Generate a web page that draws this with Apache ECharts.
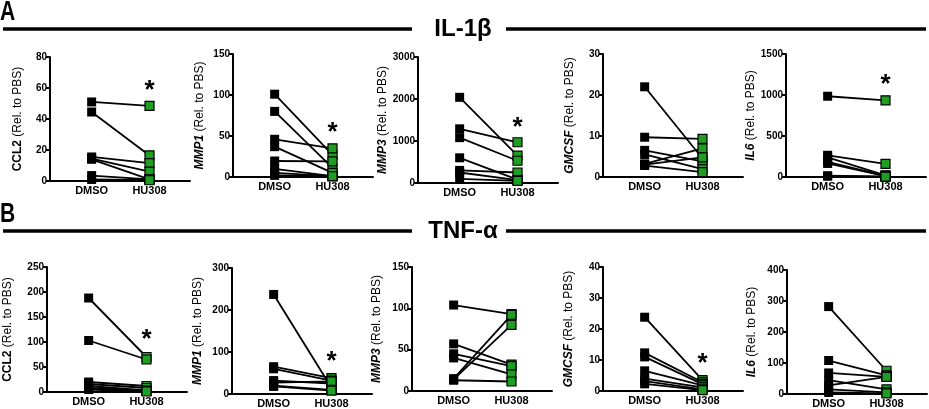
<!DOCTYPE html>
<html><head><meta charset="utf-8">
<script src="https://cdn.jsdelivr.net/npm/echarts@6/dist/echarts.min.js"></script>
<style>html,body{margin:0;padding:0;background:#fff}#c{width:929px;height:409px}</style>
</head><body><div id="c"></div>
<script>
// ---------- data ----------
const categories = ['DMSO', 'HU308'];
const panelLetters = ['A', 'B'];
const headers = ['IL-1β', 'TNF-α'];
const genes = ['CCL2', 'MMP1', 'MMP3', 'GMCSF', 'IL6'];
const geneItalic = [false, true, true, true, true];

// IL-1β (row A) — paired values per donor
const A_CCL2_DMSO  = [51, 44.5, 15.5, 14.5, 14, 3.5, 1];
const A_CCL2_HU308 = [48.5, 16.5, 11.5, 6, 1, 1, 0.5];
const A_MMP1_DMSO  = [101, 80, 46, 37, 19.5, 10, 5, 2];
const A_MMP1_HU308 = [27, 11, 35, 5, 19, 1, 1, 1];
const A_MMP3_DMSO  = [2040, 1290, 1080, 600, 300, 250, 100];
const A_MMP3_HU308 = [650, 970, 530, 80, 250, 70, 50];
const A_GMCSF_DMSO  = [22, 9.7, 6.5, 5.5, 3.2, 3.0, 2.8];
const A_GMCSF_HU308 = [4.5, 9.3, 3.8, 1.9, 7, 4.8, 1.2];
const A_IL6_DMSO  = [985, 265, 240, 185, 165, 15, 10];
const A_IL6_HU308 = [935, 160, 20, 15, 10, 5, 5];

// TNF-α (row B)
const B_CCL2_DMSO  = [188, 103, 20, 16, 12, 8, 5];
const B_CCL2_HU308 = [70, 65, 12, 8, 3, 2, 1];
const B_MMP1_DMSO  = [237, 65, 60, 32, 27, 20, 18];
const B_MMP1_HU308 = [15, 38, 32, 25, 30, 10, 8];
const B_MMP3_DMSO  = [104, 57, 45, 40, 15, 14, 13];
const B_MMP3_HU308 = [93, 32, 30, 20, 92, 80, 11.5];
const B_GMCSF_DMSO  = [23.8, 12.3, 11, 6.5, 4, 3.2, 2.3];
const B_GMCSF_HU308 = [3.5, 2.8, 2.2, 1.8, 1.2, 0.5, 0.3];
const B_IL6_DMSO  = [282, 108, 68, 45, 28, 15, 5];
const B_IL6_HU308 = [75, 60, 55, 15, 55, 5, 2];

// y-axis ranges and tick intervals
const yMaxA = [80, 150, 3000, 30, 1500];
const yIntA = [20, 50, 1000, 10, 500];
const yMaxB = [250, 300, 150, 40, 400];
const yIntB = [50, 100, 50, 10, 100];
// significance star height (null = no star)
const starA = [62, 61, 1450, null, 1195];
const starB = [116, 90, null, 10.6, null];

// ---------- layout ----------
const rows = [
  { dmso: [A_CCL2_DMSO, A_MMP1_DMSO, A_MMP3_DMSO, A_GMCSF_DMSO, A_IL6_DMSO],
    hu: [A_CCL2_HU308, A_MMP1_HU308, A_MMP3_HU308, A_GMCSF_HU308, A_IL6_HU308],
    yMax: yMaxA, yInt: yIntA, star: starA,
    left: [50, 233, 418, 603, 786], top: [57, 54, 57, 54, 54], bottom: [181, 177, 183, 177, 177],
    gap: [26, 27, 25, 27, 28] },
  { dmso: [B_CCL2_DMSO, B_MMP1_DMSO, B_MMP3_DMSO, B_GMCSF_DMSO, B_IL6_DMSO],
    hu: [B_CCL2_HU308, B_MMP1_HU308, B_MMP3_HU308, B_GMCSF_HU308, B_IL6_HU308],
    yMax: yMaxB, yInt: yIntB, star: starB,
    left: [47, 232, 412, 603, 787], top: [267, 268, 267, 267, 270], bottom: [392, 395, 391, 391, 395],
    gap: [33, 28, 29, 28, 29] }
];
const FONT = '"Liberation Sans", Arial, sans-serif';
const grids = [], xAxes = [], yAxes = [], series = [];
let gi = 0;
rows.forEach((row, r) => {
  for (let p = 0; p < 5; p++) {
    grids.push({ left: row.left[p], top: row.top[p], width: 140, height: row.bottom[p] - row.top[p] });
    xAxes.push({
      gridIndex: gi, type: 'value', min: -0.72, max: 1.7,
      axisLine: { show: true, onZero: false, lineStyle: { color: '#000', width: 2 } },
      axisTick: { show: false }, splitLine: { show: false },
      axisLabel: { customValues: [0, 1], formatter: v => categories[Math.round(v)],
        color: '#000', fontWeight: 'bold', fontSize: 11, fontFamily: FONT, margin: 4 }
    });
    const g = genes[p];
    yAxes.push({
      gridIndex: gi, type: 'value', min: 0, max: row.yMax[p], interval: row.yInt[p],
      axisLine: { show: true, onZero: false, lineStyle: { color: '#000', width: 2 } },
      axisTick: { show: true, length: 4, lineStyle: { color: '#000', width: 2 } },
      splitLine: { show: false },
      axisLabel: { formatter: v => String(v), color: '#000', fontWeight: 'bold', fontSize: 10, fontFamily: FONT, margin: 3 },
      name: '{g|' + g + '} (Rel. to PBS)', nameLocation: 'middle', nameGap: row.gap[p], nameRotate: 90,
      nameTextStyle: { color: '#000', fontSize: 12, fontFamily: FONT,
        rich: { g: { fontWeight: 'bold', fontStyle: geneItalic[p] ? 'italic' : 'normal', fontSize: 12, fontFamily: FONT, color: '#000' } } }
    });
    const d = row.dmso[p], h = row.hu[p];
    for (let i = 0; i < d.length; i++) {
      series.push({ type: 'line', xAxisIndex: gi, yAxisIndex: gi, data: [[0, d[i]], [1, h[i]]],
        symbol: 'none', lineStyle: { color: '#000', width: 1.8 }, silent: true, animation: false, z: 2 });
    }
    series.push({ type: 'scatter', xAxisIndex: gi, yAxisIndex: gi, data: d.map(v => [0, v]),
      symbol: 'rect', symbolSize: 9, itemStyle: { color: '#000', opacity: 1 }, animation: false, z: 3 });
    series.push({ type: 'scatter', xAxisIndex: gi, yAxisIndex: gi, data: h.map(v => [1, v]),
      symbol: 'rect', symbolSize: 9, itemStyle: { color: '#1f9e24', borderColor: '#000', borderWidth: 1.2, opacity: 1 }, animation: false, z: 3 });
    if (row.star[p] !== null) {
      series.push({ type: 'scatter', xAxisIndex: gi, yAxisIndex: gi, data: [[1, row.star[p]]],
        symbol: 'circle', symbolSize: 1, itemStyle: { color: 'transparent', opacity: 1 }, animation: false, z: 4,
        label: { show: true, position: 'inside', formatter: '*', color: '#000', opacity: 1, fontSize: 26, fontWeight: 'bold', fontFamily: FONT, offset: [0, 6] } });
    }
    gi++;
  }
});

const HFONT = '"Liberation Sans", Arial, sans-serif';
const headerY = [29, 231];
const graphic = [];
headerY.forEach((y, r) => {
  graphic.push({ type: 'text', x: 0, y: y - 30, scaleX: 0.78, style: { text: panelLetters[r], font: 'bold 27px ' + HFONT, fill: '#000' } });
  graphic.push({ type: 'line', shape: { x1: 3, y1: y, x2: 412, y2: y }, style: { stroke: '#000', lineWidth: 3.5 } });
  graphic.push({ type: 'line', shape: { x1: 506, y1: y, x2: 926, y2: y }, style: { stroke: '#000', lineWidth: 3.5 } });
  graphic.push({ type: 'text', x: 463, y: y, style: { text: headers[r], font: 'bold 24px ' + HFONT, fill: '#000', align: 'center', verticalAlign: 'middle' } });
});

const chart = echarts.init(document.getElementById('c'), null, { renderer: 'canvas' });
chart.setOption({ animation: false, backgroundColor: '#fff', grid: grids, xAxis: xAxes, yAxis: yAxes, series, graphic });
</script></body></html>
